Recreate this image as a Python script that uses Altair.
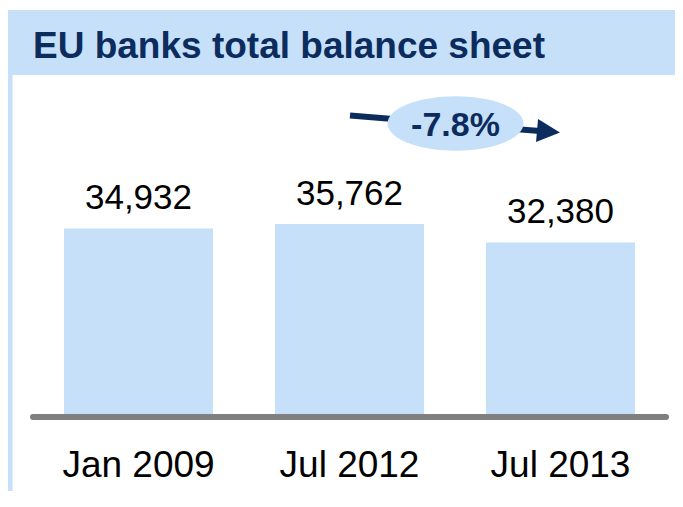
import altair as alt
import pandas as pd

# ---- data ----
periods = ["Jan 2009", "Jul 2012", "Jul 2013"]
values = [34932, 35762, 32380]
title_text = "EU banks total balance sheet"
change_label = "-7.8%"

LIGHT = "#C6E0F9"
NAVY = "#0C2C5E"
GRAY = "#808080"
FONT = "Liberation Sans"

df = pd.DataFrame({"period": periods, "value": values})
one = pd.DataFrame({"k": [0]})

W, H = 633, 329

x_enc = alt.X(
    "period:N",
    sort=None,
    scale=alt.Scale(paddingInner=0.294, paddingOuter=0.147),
    axis=alt.Axis(
        title=None,
        domain=False,
        ticks=False,
        tickSize=0,
        grid=False,
        labelAngle=0,
        labelFontSize=37,
        labelFont=FONT,
        labelColor="#000000",
        labelBaseline="alphabetic",
        labelPadding=56,
        labelLimit=0,
    ),
)
y_enc = alt.Y("value:Q", scale=alt.Scale(domain=[0, 60000]), axis=None)

# title band and left stripe
band = alt.Chart(one).mark_rect(color=LIGHT).encode(
    x=alt.value(-25), x2=alt.value(642), y=alt.value(-81), y2=alt.value(-16)
)
stripe = alt.Chart(one).mark_rect(color=LIGHT).encode(
    x=alt.value(-25), x2=alt.value(-20.5), y=alt.value(-16), y2=alt.value(420)
)
title = alt.Chart(one).mark_text(
    text=title_text, font=FONT, fontSize=37, fontWeight="bold", color=NAVY,
    align="left", baseline="alphabetic"
).encode(x=alt.value(0), y=alt.value(-33))

bars = alt.Chart(df).mark_bar(color=LIGHT).encode(x=x_enc, y=y_enc)
labels = alt.Chart(df).mark_text(
    font=FONT, fontSize=35, color="#000000", baseline="alphabetic", dy=-19
).encode(x=x_enc, y=y_enc, text=alt.Text("value:Q", format=","))

baseline = alt.Chart(one).mark_rule(
    color=GRAY, strokeWidth=6, strokeCap="round", yOffset=-3
).encode(x=alt.value(0), x2=alt.value(W), y=alt.datum(0, type="quantitative", scale=alt.Scale(domain=[0, 60000])))

arrow_line = alt.Chart(one).mark_rule(color=NAVY, strokeWidth=6).encode(
    x=alt.value(317), x2=alt.value(507), y=alt.value(24.5), y2=alt.value(40)
)
ellipse_path = (
    "M-1,0 C-1,-0.2209 -0.5523,-0.4 0,-0.4 C0.5523,-0.4 1,-0.2209 1,0 "
    "C1,0.2209 0.5523,0.4 0,0.4 C-0.5523,0.4 -1,0.2209 -1,0 Z"
)
ellipse = alt.Chart(one).mark_point(
    shape=ellipse_path, filled=True, color=LIGHT, opacity=1, size=136 * 136
).encode(x=alt.value(422.5), y=alt.value(32.5))
pct = alt.Chart(one).mark_text(
    text=change_label, font=FONT, fontSize=34, fontWeight="bold", color=NAVY,
    align="center", baseline="alphabetic"
).encode(x=alt.value(422.5), y=alt.value(45))
head = alt.Chart(one).mark_point(
    shape="M-1,-1 L1,0 L-1,1 Z", filled=True, color=NAVY, opacity=1, size=529, angle=5
).encode(x=alt.value(515.5), y=alt.value(40.5))

chart = alt.layer(
    band, stripe, title, bars, labels, baseline, arrow_line, ellipse, pct, head
).properties(
    width=W,
    height=H,
    padding={"left": 25, "top": 83, "right": 9, "bottom": 71},
    autosize=alt.AutoSizeParams(type="none"),
    background="white",
).configure_view(stroke=None)

chart.save("out.html", embed_options={"renderer": "svg", "actions": False})
